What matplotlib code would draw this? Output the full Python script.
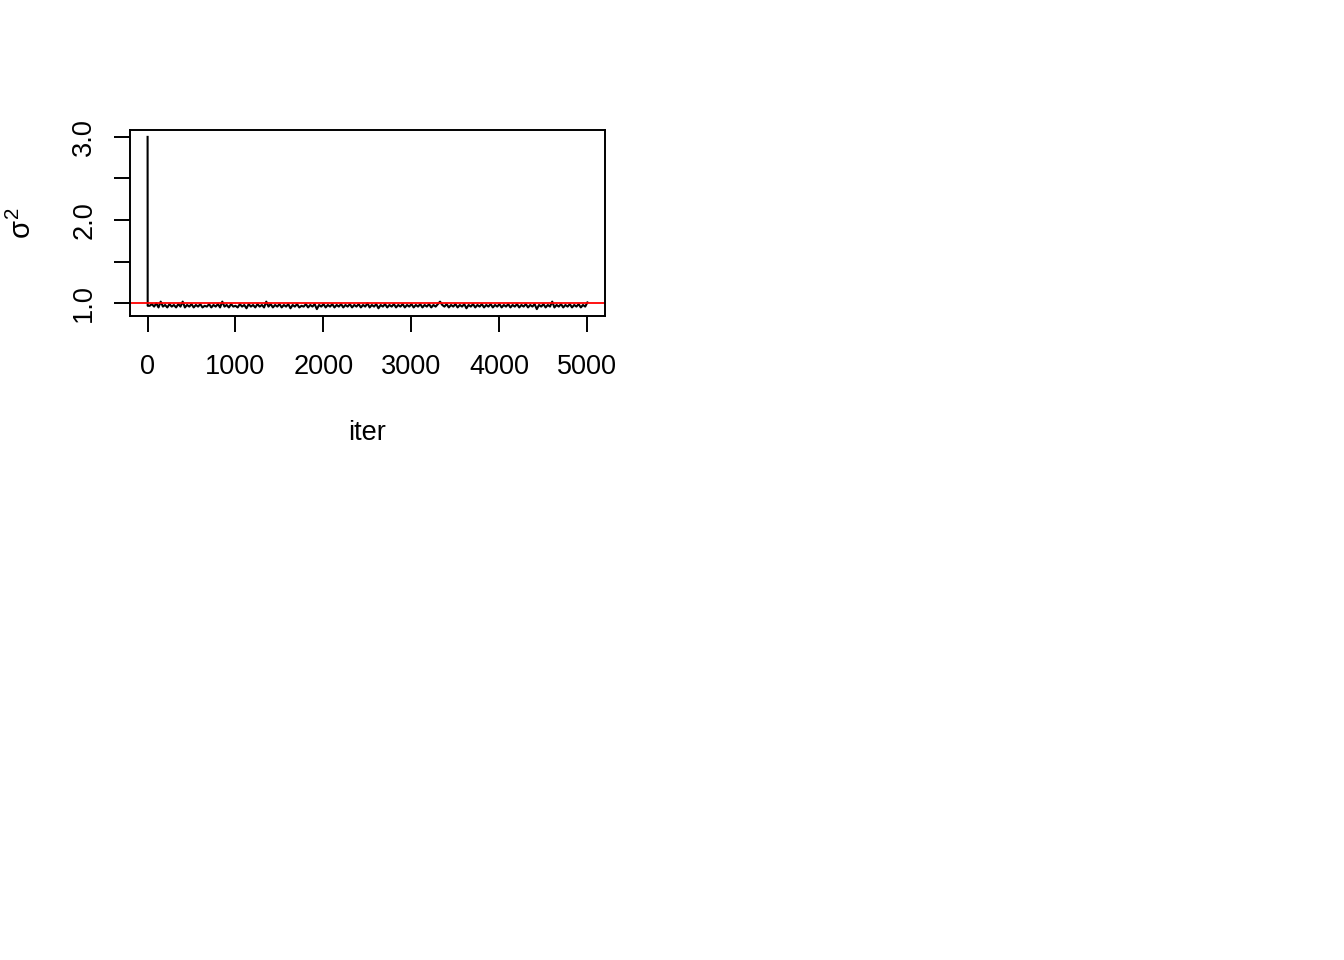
import numpy as np
import matplotlib
matplotlib.use('Agg')
import matplotlib.pyplot as plt

# trace of sigma^2 (thinned: iter 1, 2, then every 25)
iters = np.r_[1, 2, np.arange(25, 5001, 25)]
sigma2 = [3.00, 0.97,
          0.97, 0.99, 0.96, 1.00, 0.95, 1.02, 0.96, 0.98, 0.95, 0.99,
          0.96, 0.98, 0.95, 0.99, 0.96, 1.02, 0.95, 0.98, 0.96, 0.99,
          0.95, 0.98, 0.96, 0.99, 0.95, 0.97, 0.96, 0.99, 0.95, 0.98,
          0.96, 0.99, 0.95, 1.02, 0.96, 0.98, 0.95, 0.99, 0.96, 0.97,
          0.95, 0.99, 0.96, 0.98, 0.94, 0.99, 0.96, 0.98, 0.95, 0.99,
          0.96, 0.98, 0.95, 1.02, 0.96, 0.99, 0.95, 0.98, 0.96, 0.99,
          0.95, 0.98, 0.96, 0.99, 0.94, 0.98, 0.96, 0.99, 0.95, 0.97,
          0.96, 0.99, 0.95, 0.98, 0.96, 0.99, 0.93, 0.98, 0.96, 0.99,
          0.95, 0.98, 0.96, 0.99, 0.95, 0.98, 0.96, 0.99, 0.95, 0.98,
          0.96, 0.99, 0.95, 0.98, 0.96, 0.99, 0.95, 0.98, 0.96, 1.00,
          0.95, 0.98, 0.96, 0.99, 0.94, 0.98, 0.96, 0.99, 0.95, 0.98,
          0.96, 0.99, 0.95, 0.98, 0.96, 0.99, 0.95, 0.98, 0.96, 0.99,
          0.95, 0.98, 0.96, 0.99, 0.95, 0.98, 0.96, 0.99, 0.95, 0.98,
          0.96, 0.99, 1.02, 0.98, 0.96, 0.99, 0.95, 0.98, 0.96, 0.99,
          0.95, 0.98, 0.96, 0.99, 0.94, 0.98, 0.96, 0.99, 0.95, 0.98,
          0.96, 0.99, 0.95, 0.98, 0.96, 0.99, 0.95, 0.98, 0.96, 0.99,
          0.95, 0.98, 0.96, 0.99, 0.95, 0.98, 0.96, 0.99, 0.95, 0.98,
          0.96, 0.99, 0.95, 0.98, 0.96, 0.99, 0.93, 0.98, 0.96, 0.99,
          0.95, 0.98, 0.96, 1.02, 0.95, 0.98, 0.96, 0.99, 0.95, 0.98,
          0.96, 0.99, 0.95, 0.98, 0.96, 0.99, 0.95, 0.98, 0.96, 1.01]
true_sigma2 = 1.0

xticks = [0, 1000, 2000, 3000, 4000, 5000]
yticks = [1.0, 1.5, 2.0, 2.5, 3.0]
ytick_labels = ['1.0', '', '2.0', '', '3.0']

plt.rcParams['font.family'] = ['Liberation Sans', 'DejaVu Sans']
plt.rcParams['mathtext.fontset'] = 'custom'
plt.rcParams['mathtext.rm'] = 'Liberation Sans'
plt.rcParams['mathtext.it'] = 'Liberation Sans'

fig = plt.figure(figsize=(13.44, 9.6), dpi=100)
ax = fig.add_axes([130/1344, 1 - 316/960, 475/1344, 186/960])

ax.plot(iters, sigma2, color='black', linewidth=1.5)
ax.axhline(true_sigma2, color='#FF0000', linewidth=1.3)

# R style 4% padding
xr = max(iters) - min(iters)
ax.set_xlim(min(iters) - 0.04*xr, max(iters) + 0.04*xr)
yr = max(sigma2) - min(sigma2)
ax.set_ylim(min(sigma2) - 0.04*yr, max(sigma2) + 0.04*yr)

ax.set_xticks(xticks)
ax.set_xticklabels([str(t) for t in xticks])
ax.set_yticks(yticks)
ax.set_yticklabels(ytick_labels, rotation=90, va='center')

for s in ax.spines.values():
    s.set_linewidth(1.4)
ax.tick_params(length=11.5, width=1.4, labelsize=19.5, colors='black')
ax.tick_params(axis='x', pad=15.5)
ax.tick_params(axis='y', pad=12)

ax.set_xlabel('iter', fontsize=19.5, labelpad=29)
ax.set_ylabel(r'$\sigma^2$', fontsize=21, labelpad=25)

fig.savefig('out.png', dpi=100)
